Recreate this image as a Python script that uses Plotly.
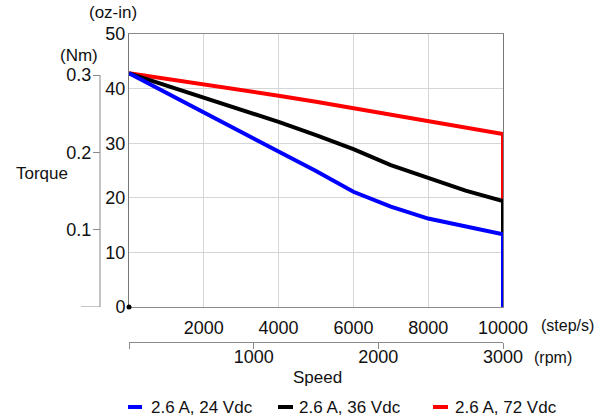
import plotly.graph_objects as go

# ---- data ----
speed_steps = [0, 2000, 4000, 5000, 6000, 7000, 8000, 9000, 10000, 10000]
torque_24v = [42.8, 35.7, 28.5, 24.9, 21.1, 18.4, 16.2, 14.7, 13.3, 0]
torque_36v = [42.8, 38.4, 33.9, 31.5, 28.9, 26.0, 23.6, 21.3, 19.4, 13.3]
torque_72v = [42.8, 40.8, 38.7, 37.6, 36.4, 35.2, 34.0, 32.9, 31.7, 19.4]
series_names = ["2.6 A, 24 Vdc", "2.6 A, 36 Vdc", "2.6 A, 72 Vdc"]
series_colors = ["#0000ff", "#000000", "#ff0000"]
step_ticks = [2000, 4000, 6000, 8000, 10000]
step_labels = ["2000", "4000", "6000", "8000", "10000"]
ozin_ticks = [0, 10, 20, 30, 40, 50]
nm_ticks = [0.1, 0.2, 0.3]
nm_labels = ["0.1", "0.2", "0.3"]
rpm_ticks = [0, 1000, 2000, 3000]
rpm_labels = ["", "1000", "2000", "3000"]
OZIN_PER_NM = 141.612

W, H = 604, 420
ML, MR, MT, MB = 60, 101, 34, 68
PW, PH = W - ML - MR, H - MT - MB


def px(x):
    return (x - ML) / PW


def py(y):
    return (H - MB - y) / PH


FONT = "Liberation Sans, Arial, sans-serif"
GRID = "#d6d6d6"
AXC = "#8a8a8a"

fig = go.Figure()
series = [torque_24v, torque_36v, torque_72v]
for i in [2, 1, 0]:
    fig.add_trace(go.Scatter(x=speed_steps, y=series[i], mode="lines", name=series_names[i],
                             line=dict(color=series_colors[i], width=4), showlegend=False,
                             hoverinfo="skip"))
fig.add_trace(go.Scatter(x=[], y=[], xaxis="x2", yaxis="y2", showlegend=False))

fig.update_layout(
    width=W, height=H,
    margin=dict(l=ML, r=MR, t=MT, b=MB, pad=0),
    plot_bgcolor="white", paper_bgcolor="white",
    font=dict(family=FONT, size=17, color="#111"),
    xaxis=dict(domain=[px(129), 1], range=[0, 10000], tickvals=step_ticks, ticktext=step_labels,
               showgrid=True, gridcolor=GRID, gridwidth=1,
               showline=True, linecolor=AXC, mirror=True, linewidth=1,
               ticks="", ticklabelstandoff=4, tickfont=dict(size=18), zeroline=False),
    yaxis=dict(domain=[py(307), 1], range=[0, 50], tickvals=ozin_ticks,
               showgrid=True, gridcolor=GRID, gridwidth=1,
               showline=True, linecolor="#777", mirror=True, linewidth=1,
               ticks="", ticklabelstandoff=-1, tickfont=dict(size=18), zeroline=False),
    yaxis2=dict(overlaying="y", anchor="free", position=px(100), side="left",
                range=[0, 50 / OZIN_PER_NM], tickvals=nm_ticks, ticktext=nm_labels,
                ticks="outside", ticklen=7, tickcolor=AXC, showline=False, showgrid=False,
                zeroline=False, tickfont=dict(size=18), ticklabelstandoff=-2),
    xaxis2=dict(overlaying="x", anchor="free", position=py(342), side="bottom",
                range=[0, 3000], tickvals=rpm_ticks, ticktext=rpm_labels,
                ticks="outside", ticklen=6, tickcolor=AXC, showline=True, linecolor=AXC,
                showgrid=False, zeroline=False, tickfont=dict(size=18), ticklabelstandoff=-8),
)

shapes = [
    dict(type="line", xref="paper", yref="y2", x0=px(100), x1=px(100), y0=0, y1=nm_ticks[-1],
         line=dict(color=AXC, width=1)),
    dict(type="line", xref="paper", yref="y2", x0=px(81), x1=px(100), y0=0, y1=0,
         line=dict(color=AXC, width=1)),
    dict(type="circle", xref="paper", yref="paper", xsizemode="pixel", ysizemode="pixel",
         xanchor=px(129), yanchor=py(307), x0=-2.5, x1=2.5, y0=-2.5, y1=2.5,
         fillcolor="black", line=dict(color="black", width=0)),
]

annotations = [
    dict(text="(oz-in)", x=px(113), y=py(13)),
    dict(text="(Nm)", x=px(79), y=py(55)),
    dict(text="Torque", x=px(42), y=py(173)),
    dict(text="(step/s)", x=px(567), y=py(325), font=dict(size=16)),
    dict(text="(rpm)", x=px(553), y=py(357), font=dict(size=16)),
    dict(text="Speed", x=px(317), y=py(377)),
]
leg_line = [(128, 142), (278, 293), (433, 448)]
leg_text = [149, 297, 453]
for i in range(3):
    shapes.append(dict(type="line", xref="paper", yref="paper", x0=px(leg_line[i][0]), x1=px(leg_line[i][1]),
                       y0=py(407), y1=py(407), line=dict(color=series_colors[i], width=4)))
    annotations.append(dict(text=series_names[i], x=px(leg_text[i]), y=py(407), xanchor="left"))

for a in annotations:
    a.setdefault("xref", "paper")
    a.setdefault("yref", "paper")
    a.setdefault("showarrow", False)
    a.setdefault("xanchor", "center")
    a.setdefault("yanchor", "middle")

fig.update_layout(shapes=shapes, annotations=annotations)
fig.write_html("out.html", config={"displayModeBar": False},
               post_script="document.body.style.margin='0';document.body.style.padding='0';")
